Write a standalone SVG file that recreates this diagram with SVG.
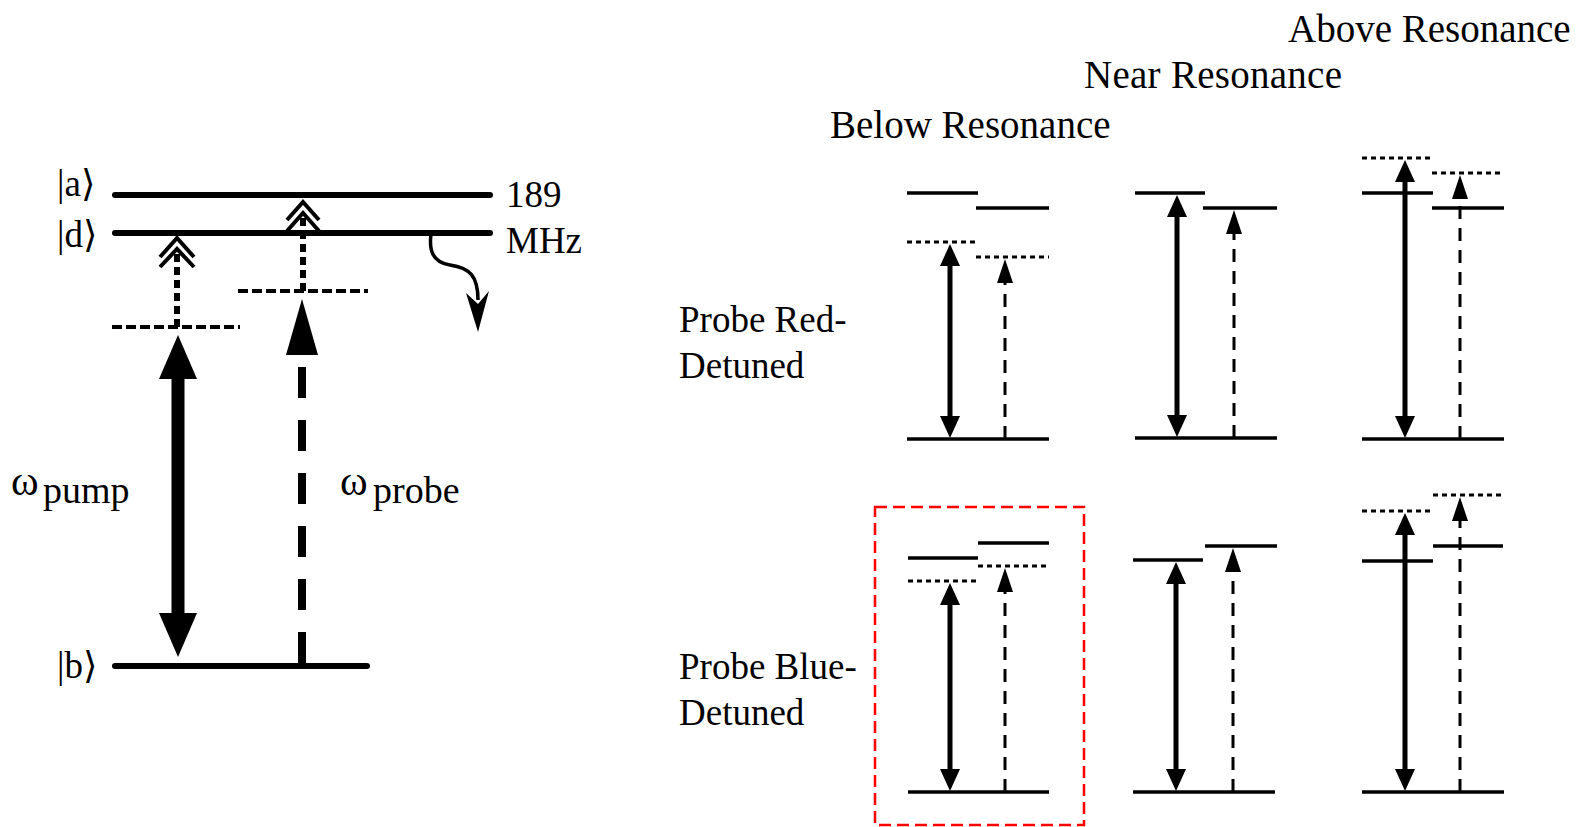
<svg xmlns="http://www.w3.org/2000/svg" width="1578" height="827" viewBox="0 0 1578 827">
<style>
.t{font-family:"Liberation Serif","Times New Roman",serif;font-size:37px;fill:#000}
.h{font-size:39px}
.w{font-family:"Liberation Serif","DejaVu Serif",serif;font-size:42px}
.lvl{stroke:#000;stroke-width:6;stroke-linecap:round;fill:none}
.vlvl{stroke:#000;stroke-width:4;stroke-dasharray:10 4;fill:none}
.vdot{stroke:#000;stroke-width:6;stroke-dasharray:8 5;fill:none}
.chev{stroke:#000;stroke-width:4;fill:none}
.rl{stroke:#000;stroke-width:3.5;fill:none}
.rd{stroke:#000;stroke-width:3;stroke-dasharray:5 4;fill:none}
.pump{stroke:#000;stroke-width:5;fill:none;marker-start:url(#ph);marker-end:url(#ph)}
.probe{stroke:#000;stroke-width:3;stroke-dasharray:13 9;fill:none;marker-end:url(#prh)}
</style>
<defs>
<marker id="ph" markerUnits="userSpaceOnUse" markerWidth="22" markerHeight="20" viewBox="0 0 22 20" refX="1" refY="10" orient="auto-start-reverse"><path d="M0,0 L22,10 L0,20 z" fill="#000"/></marker>
<marker id="prh" markerUnits="userSpaceOnUse" markerWidth="24" markerHeight="16" viewBox="0 0 24 16" refX="1" refY="8" orient="auto"><path d="M0,0 L24,8 L0,16 z" fill="#000"/></marker>
<marker id="bigh" markerUnits="userSpaceOnUse" markerWidth="44" markerHeight="38" viewBox="0 0 44 38" refX="1" refY="19" orient="auto-start-reverse"><path d="M0,0 L44,19 L0,38 z" fill="#000"/></marker>
<marker id="bigpr" markerUnits="userSpaceOnUse" markerWidth="56" markerHeight="32" viewBox="0 0 56 32" refX="1" refY="16" orient="auto"><path d="M0,0 L56,16 L0,32 z" fill="#000"/></marker>
</defs>
<rect width="1578" height="827" fill="#fff"/>

<!-- Left diagram -->
<g id="level-a"><line class="lvl" x1="115" y1="195" x2="490" y2="195"/><text class="t" x="57" y="196">|a⟩</text><text class="t" x="506" y="207">189</text></g>
<g id="level-d"><line class="lvl" x1="115" y1="233" x2="490" y2="233"/><text class="t" x="57" y="247">|d⟩</text><text class="t" x="506" y="253">MHz</text></g>
<g id="level-b"><line class="lvl" x1="115" y1="666" x2="367" y2="666"/><text class="t" x="57" y="678">|b⟩</text></g>
<g id="virtual-pump"><line class="vlvl" x1="112" y1="327" x2="240" y2="327"/></g>
<g id="virtual-probe"><line class="vlvl" x1="238" y1="291" x2="368" y2="291"/></g>
<g id="label-pump"><text class="t" x="11" y="495"><tspan class="w">ω</tspan><tspan x="43" y="503" font-size="38">pump</tspan></text></g>
<g id="label-probe"><text class="t" x="340" y="495"><tspan class="w">ω</tspan><tspan x="373" y="503" font-size="38">probe</tspan></text></g>

<g id="connectors-left">
<line stroke="#000" stroke-width="13" x1="178" y1="378" x2="178" y2="614" marker-start="url(#bigh)" marker-end="url(#bigh)"/>
<line stroke="#000" stroke-width="8" stroke-dasharray="31 22" x1="302" y1="663" x2="302" y2="354" marker-end="url(#bigpr)"/>
<line class="vdot" x1="177" y1="327" x2="177" y2="252"/>
<polyline class="chev" points="160,257 177,238 194,257"/>
<polyline class="chev" points="160,267 177,249 194,267"/>
<line class="vdot" x1="303" y1="291" x2="303" y2="214"/>
<polyline class="chev" points="287,220 303,202 319,220"/>
<polyline class="chev" points="287,231 303,213 319,231"/>
<path d="M431,234 C429,250 432,262 450,265 C470,268 478,276 478,300" stroke="#000" stroke-width="3.5" fill="none"/>
<polygon points="466,293 478,304 489,291 478,332" fill="#000"/>
</g>

<!-- Right side labels -->
<text class="t h" x="1288" y="42">Above Resonance</text>
<text class="t h" x="1084" y="88" textLength="258" lengthAdjust="spacing">Near Resonance</text>
<text class="t h" x="830" y="138">Below Resonance</text>
<text class="t" x="679" y="332">Probe Red-</text>
<text class="t" x="679" y="378">Detuned</text>
<text class="t" x="679" y="679">Probe Blue-</text>
<text class="t" x="679" y="725">Detuned</text>

<!-- Panels row 1 -->
<g id="red-below">
<line class="rl" x1="907" y1="193" x2="978" y2="193"/><line class="rl" x1="976" y1="208" x2="1049" y2="208"/>
<line class="rd" x1="907" y1="242" x2="978" y2="242"/><line class="rd" x1="976" y1="257" x2="1049" y2="257"/>
<line class="rl" x1="907" y1="439" x2="1049" y2="439"/>
</g>
<g id="red-near">
<line class="rl" x1="1135" y1="193" x2="1205" y2="193"/><line class="rl" x1="1203" y1="208" x2="1277" y2="208"/>
<line class="rl" x1="1135" y1="438" x2="1277" y2="438"/>
</g>
<g id="red-above">
<line class="rd" x1="1362" y1="158" x2="1433" y2="158"/><line class="rl" x1="1362" y1="193" x2="1433" y2="193"/>
<line class="rd" x1="1432" y1="173" x2="1503" y2="173"/><line class="rl" x1="1432" y1="208" x2="1504" y2="208"/>
<line class="rl" x1="1362" y1="439" x2="1504" y2="439"/>
</g>
<!-- Panels row 2 -->
<g id="blue-below">
<line class="rl" x1="908" y1="558" x2="978" y2="558"/><line class="rl" x1="978" y1="543" x2="1049" y2="543"/>
<line class="rd" x1="908" y1="581" x2="978" y2="581"/><line class="rd" x1="978" y1="566" x2="1049" y2="566"/>
<line class="rl" x1="908" y1="792" x2="1049" y2="792"/>
<rect x="875" y="507" width="209" height="318" fill="none" stroke="#ff0000" stroke-width="2.5" stroke-dasharray="12 6"/>
</g>
<g id="blue-near">
<line class="rl" x1="1133" y1="560" x2="1203" y2="560"/><line class="rl" x1="1205" y1="546" x2="1277" y2="546"/>
<line class="rl" x1="1133" y1="792" x2="1275" y2="792"/>
</g>
<g id="blue-above">
<line class="rd" x1="1362" y1="511" x2="1433" y2="511"/><line class="rl" x1="1362" y1="561" x2="1433" y2="561"/>
<line class="rd" x1="1433" y1="495" x2="1505" y2="495"/><line class="rl" x1="1433" y1="546" x2="1503" y2="546"/>
<line class="rl" x1="1362" y1="792" x2="1504" y2="792"/>
</g>

<g id="connectors-right">
<line class="pump" x1="950" y1="265" x2="950" y2="417"/>
<line class="probe" x1="1005" y1="439" x2="1005" y2="282"/>
<line class="pump" x1="1177" y1="216" x2="1177" y2="416"/>
<line class="probe" x1="1234" y1="438" x2="1234" y2="233"/>
<line class="pump" x1="1405" y1="181" x2="1405" y2="417"/>
<line class="probe" x1="1460" y1="439" x2="1460" y2="198"/>
<line class="pump" x1="950" y1="604" x2="950" y2="770"/>
<line class="probe" x1="1005" y1="792" x2="1005" y2="591"/>
<line class="pump" x1="1176" y1="583" x2="1176" y2="770"/>
<line class="probe" x1="1233" y1="792" x2="1233" y2="571"/>
<line class="pump" x1="1405" y1="534" x2="1405" y2="770"/>
<line class="probe" x1="1460" y1="792" x2="1460" y2="520"/>
</g>
</svg>
